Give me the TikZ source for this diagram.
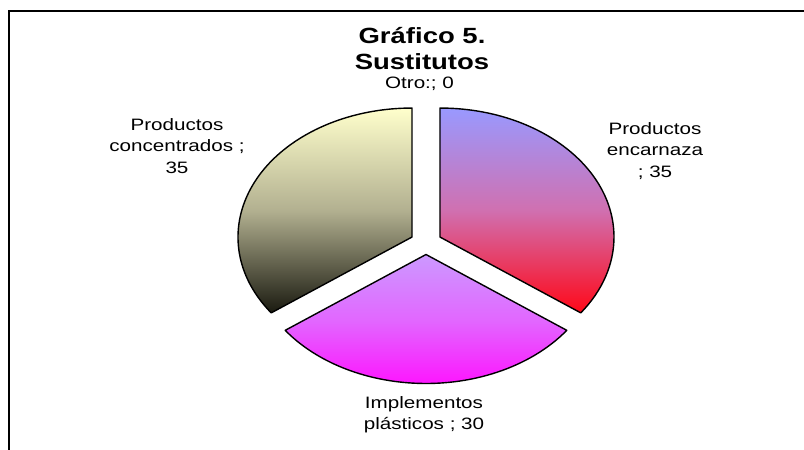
\documentclass[tikz,border=0pt]{standalone}
\usepackage{fontspec}
\setmainfont{Liberation Sans}[FakeStretch=1.25]
\usetikzlibrary{calc, positioning}
\def\pierx{174}
\def\piery{129}
\def\explodex{15.7}
\def\explodey{12}
\def\slicelinewidth{1.4pt}
\def\framelinewidth{2pt}
\definecolor{topencarnaza}{HTML}{9999FF}
\definecolor{midencarnaza}{HTML}{D070B0}
\definecolor{bottomencarnaza}{HTML}{FF0818}
\definecolor{topimplementos}{HTML}{CC99FF}
\definecolor{midimplementos}{HTML}{E266FF}
\definecolor{bottomimplementos}{HTML}{FF11FF}
\definecolor{topconcentrados}{HTML}{FFFFCC}
\definecolor{midconcentrados}{HTML}{B2B090}
\definecolor{bottomconcentrados}{HTML}{1A1A10}
\tikzset{
	% pie slices
	slice/.style={
		draw=black,
		line width=\slicelinewidth,
		line join=round,
	},
	% data labels
	datalabel/.style={
		font=\fontsize{16.5}{21.5}\selectfont,
		align=center,
		inner sep=0pt,
	},
	% chart title
	charttitle/.style={
		font=\fontsize{22}{25.7}\selectfont\bfseries,
		align=center,
		inner sep=0pt,
	}
}
\begin{document}
\begin{tikzpicture}[x=1pt, y=1pt]
		\useasboundingbox (0,0) rectangle (804,450);
		% Chart frame
		\draw [
			line width=\framelinewidth
		] (8.5,-10) -- (8.5,439) -- (814,439);
		
		% Pie slices
		\coordinate (pie_center) at (426,207.5);
		\foreach \name/\start/\finish in {encarnaza/90/-36, implementos/-36/-144, concentrados/-144/-270} {
			\pgfmathsetmacro{\midangle}{(\start+\finish)/2}
			\coordinate (apex_\name) at 
			  ($(pie_center) + (\midangle:{\explodex} and {\explodey})$);
			\draw [
				slice,
				top color=top\name,
				bottom color=bottom\name,
				middle color=mid\name,
			] (apex_\name) -- ++(\start:{\pierx} and {\piery})
			  arc[start angle=\start, end angle=\finish, x radius=\pierx, y radius=\piery]
			  -- cycle;
		}
		
		% Title
		\node [
			charttitle
		] (chart_title) at (422,401.8) {Gráfico 5.\\Sustitutos};
		
		% Labels
		\node [
			datalabel
		] (label_otro) at (419.5,366.3) {Otro:; 0};
		%
		\node [
			datalabel
		] (label_encarnaza) at (655,299) {Productos\\encarnaza\\; 35};
		%
		\node [
			datalabel
		] (label_implementos) at (424,35.3) {Implementos\\plásticos ; 30};
		%
		\node [
			datalabel
		] (label_concentrados) at (177,304) {Productos\\concentrados ;\\35};
	\end{tikzpicture}
\end{document}
